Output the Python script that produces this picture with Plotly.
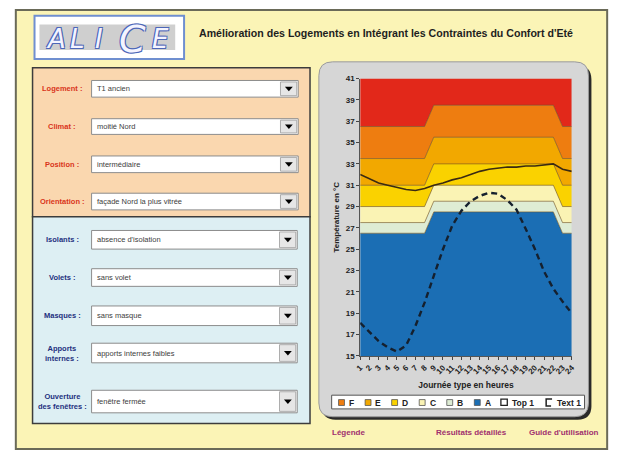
import plotly.graph_objects as go

# ---------------- data ----------------
heures = list(range(1, 25))
heure_labels = [str(h) for h in heures]

bande_A = [26.5]*8 + [28.5]*14 + [26.5]*2
bande_B = [27.5]*8 + [29.5]*14 + [27.5]*2
bande_C = [29.0]*8 + [31.0]*14 + [29.0]*2
bande_D = [31.0]*8 + [33.0]*14 + [31.0]*2
bande_E = [33.5]*8 + [35.5]*14 + [33.5]*2
bande_F = [36.5]*8 + [38.5]*14 + [36.5]*2
bande_sup = [41.0]*24

top1 = [32.0, 31.6, 31.2, 31.0, 30.8, 30.6, 30.5, 30.7, 31.0, 31.2, 31.5, 31.7,
        32.0, 32.3, 32.5, 32.6, 32.7, 32.7, 32.8, 32.8, 32.9, 33.0, 32.5, 32.3]
text1 = [18.1, 17.2, 16.4, 15.8, 15.4, 16.0, 17.8, 20.0, 22.5, 25.0, 27.2, 28.6,
         29.5, 30.0, 30.3, 30.2, 29.6, 28.7, 26.9, 25.0, 22.9, 21.3, 20.1, 19.0]

y_ticks = list(range(15, 42, 2))

band_names = ["A", "B", "C", "D", "E", "F"]
band_values = [bande_A, bande_B, bande_C, bande_D, bande_E, bande_F]
band_colors = ["#1B6EB4", "#DEECD4", "#FAF3B4", "#FAD200", "#F2A800", "#EE7D10"]
legend_colors = {"F": "#EE7D10", "E": "#F2A800", "D": "#FAD200", "C": "#FAF3B4",
                 "B": "#DEECD4", "A": "#1B6EB4"}

form_top = [("Logement :", "T1 ancien"), ("Climat :", "moitié Nord"),
            ("Position :", "intermédiaire"), ("Orientation :", "façade Nord la plus vitrée")]
form_bottom = [("Isolants :", "absence d'isolation"), ("Volets :", "sans volet"),
               ("Masques :", "sans masque"), ("Apports<br>internes :", "apports internes faibles"),
               ("Ouverture<br>des fenêtres :", "fenêtre fermée")]

W, H = 622, 459
def px(x): return x / W
def py(y): return 1 - y / H

SANS = "Liberation Sans, Arial, sans-serif"

fig = go.Figure()

edge = "rgba(110,80,30,0.75)"
fig.add_trace(go.Scatter(x=heures, y=band_values[0], mode="lines", fill="tozeroy",
                         fillcolor=band_colors[0], line=dict(color=edge, width=0.8),
                         name="A", showlegend=False, hoverinfo="skip"))
for nm, vals, col in zip(band_names[1:], band_values[1:], band_colors[1:]):
    fig.add_trace(go.Scatter(x=heures, y=vals, mode="lines", fill="tonexty",
                             fillcolor=col, line=dict(color=edge, width=0.8),
                             name=nm, showlegend=False, hoverinfo="skip"))
fig.add_trace(go.Scatter(x=heures, y=bande_sup, mode="lines", fill="tonexty",
                         fillcolor="#E2281A", line=dict(color="rgba(0,0,0,0)", width=0),
                         name="G", showlegend=False, hoverinfo="skip"))
fig.add_trace(go.Scatter(x=heures, y=top1, mode="lines", name="Top 1",
                         line=dict(color="#3A2A12", width=1.6), showlegend=False))
fig.add_trace(go.Scatter(x=heures, y=text1, mode="lines", name="Text 1",
                         line=dict(color="#15202E", width=2.4, dash="6px,4px"), showlegend=False))

shapes = []
def rect(x0, y0, x1, y1, fill, line=None, lw=1.0, layer="below"):
    shapes.append(dict(type="rect", xref="paper", yref="paper",
                       x0=px(x0), x1=px(x1), y0=py(y1), y1=py(y0),
                       fillcolor=fill, layer=layer,
                       line=dict(color=line if line else "rgba(0,0,0,0)", width=lw if line else 0)))

def rpath(x0, y0, x1, y1, r):
    P = lambda x, y: f"{px(x):.5f},{py(y):.5f}"
    return (f"M {P(x0+r,y0)} L {P(x1-r,y0)} Q {P(x1,y0)} {P(x1,y0+r)} "
            f"L {P(x1,y1-r)} Q {P(x1,y1)} {P(x1-r,y1)} L {P(x0+r,y1)} "
            f"Q {P(x0,y1)} {P(x0,y1-r)} L {P(x0,y0+r)} Q {P(x0,y0)} {P(x0+r,y0)} Z")

annots = []
def text(x, y, s, size=8, color="#222", bold=False, xanchor="left", family=SANS,
         italic=False, shadow=None, align="left"):
    f = dict(size=size, color=color, family=family)
    if bold: f["weight"] = "bold"
    if italic: f["style"] = "italic"
    if shadow: f["shadow"] = shadow
    annots.append(dict(x=px(x), y=py(y), xref="paper", yref="paper", text=s, showarrow=False,
                       xanchor=xanchor, yanchor="middle", font=f, align=align))

# outer frame
rect(11, 6, 612, 454, "#FBF4B6", "#6A6A58", 2)
# logo
rect(30, 12, 182, 56, "#FFFFFF", "#6F8FD0", 2)
rect(35, 21, 173, 47, "#CFCFCF")
outline = "-1px -1px 0 #4C66B8, 1px -1px 0 #4C66B8, -1px 1px 0 #4C66B8, 1px 1px 0 #4C66B8"
for ch, xx, sz in [("A", 52, 26), ("L", 74, 26), ("I", 96, 26), ("C", 130, 38), ("E", 158, 26)]:
    text(xx, 36, ch, size=sz, color="#F4F4FF", family="DejaVu Sans", italic=True,
         shadow=outline, xanchor="center")
text(195, 30, "Amélioration des Logements en Intégrant les Contraintes du Confort d'Eté",
     size=10.6, bold=True, family=SANS, color="#1E1E1E")

# left panels
rect(28, 65, 310, 217, "#FAD7AF", "#3C3C3C", 1.5)
rect(28, 217, 310, 428, "#DDEFF3", "#3C3C3C", 1.5)

def dropdown(x0, y0, x1, y1, value):
    rect(x0, y0, x1, y1, "#FFFFFF", "#8C8C8C", 1)
    rect(x1 - 18, y0 + 1.5, x1 - 1.5, y1 - 1.5, "#E6E6E6", "#9A9A9A", 0.8)
    cx, cy = x1 - 9.5, (y0 + y1) / 2
    shapes.append(dict(type="path", xref="paper", yref="paper", layer="below",
                       path=f"M {px(cx-4):.5f},{py(cy-2):.5f} L {px(cx+4):.5f},{py(cy-2):.5f} "
                            f"L {px(cx):.5f},{py(cy+2.5):.5f} Z",
                       fillcolor="#000000", line=dict(width=0)))
    text(x0 + 3, (y0 + y1) / 2, value, size=7.5, color="#404040")

rows_top = [(78, 95), (117, 133), (155, 172), (193, 210)]
for (lab, val), (a, b) in zip(form_top, rows_top):
    text(58, (a + b) / 2, lab, size=7.5, color="#D9341A", bold=True, xanchor="center", align="center")
    dropdown(88, a, 298, b, val)
rows_bot = [(231, 250), (270, 288), (308, 328), (346, 366), (394, 417)]
for (lab, val), (a, b) in zip(form_bottom, rows_bot):
    text(58, (a + b) / 2, lab, size=7.5, color="#23307E", bold=True, xanchor="center", align="center")
    dropdown(88, a, 297, b, val)

# chart panel with shadow
shapes.append(dict(type="path", xref="paper", yref="paper", layer="below",
                   path=rpath(322, 63, 596, 424, 14), fillcolor="#2A2A2A", line=dict(width=0)))
shapes.append(dict(type="path", xref="paper", yref="paper", layer="below",
                   path=rpath(319, 59, 593, 421, 14), fillcolor="#D6D6D6",
                   line=dict(color="#9A9A9A", width=1)))

# legend (drawn)
rect(332, 399, 589, 413, "#FFFFFF", "#555555", 1, layer="above")
lx = {"F": 339, "E": 366, "D": 393, "C": 421, "B": 449, "A": 477}
for k in ["F", "E", "D", "C", "B", "A"]:
    rect(lx[k], 403.5, lx[k] + 6, 409.5, legend_colors[k], "#555555", 0.8, layer="above")
    text(lx[k] + 8.5, 406.5, k, size=8.5, color="#222", bold=True)
rect(504, 403, 510.5, 409.5, "#FFFFFF", "#222222", 1.3, layer="above")
text(513, 406.5, "Top 1", size=8.5, color="#222", bold=True)
shapes.append(dict(type="path", xref="paper", yref="paper", layer="above",
                   path=f"M {px(556):.5f},{py(403):.5f} L {px(550):.5f},{py(403):.5f} "
                        f"L {px(550):.5f},{py(410):.5f} L {px(555):.5f},{py(410):.5f}",
                   line=dict(color="#222222", width=1.5)))
text(559, 406.5, "Text 1", size=8.5, color="#222", bold=True)

# bottom links
link = "#A0306E"
text(330, 437, "Légende", size=8, color=link, bold=True)
text(436, 437, "Résultats détaillés", size=8, color=link, bold=True)
text(531, 437, "Guide d'utilisation", size=8, color=link, bold=True)

fig.update_layout(
    width=W, height=H, autosize=False,
    margin=dict(l=0, r=0, t=0, b=0),
    paper_bgcolor="#FFFFFF", plot_bgcolor="rgba(0,0,0,0)",
    showlegend=False, shapes=shapes, annotations=annots,
    xaxis=dict(domain=[px(361), px(576)], range=[1, 24], tickvals=heures, ticktext=heure_labels,
               tickangle=-45, ticks="outside", ticklen=3, tickcolor="#444", showgrid=False,
               zeroline=False, showline=True, linecolor="#555", linewidth=1,
               tickfont=dict(size=8, color="#222", family=SANS, weight="bold"),
               title=dict(text="Journée type en heures", standoff=6,
                          font=dict(size=8.5, color="#222", family=SANS, weight="bold"))),
    yaxis=dict(domain=[py(359), py(76)], range=[15, 41], tickvals=y_ticks,
               ticks="outside", ticklen=3, tickcolor="#444", showgrid=False, zeroline=False,
               showline=True, linecolor="#555", linewidth=1,
               tickfont=dict(size=8, color="#222", family=SANS, weight="bold"),
               title=dict(text="Température en °C", standoff=4,
                          font=dict(size=8, color="#222", family=SANS, weight="bold"))),
)

fig.write_html("out.html", config={"displayModeBar": False},
               post_script="document.body.style.margin='0';document.body.style.padding='0';")
